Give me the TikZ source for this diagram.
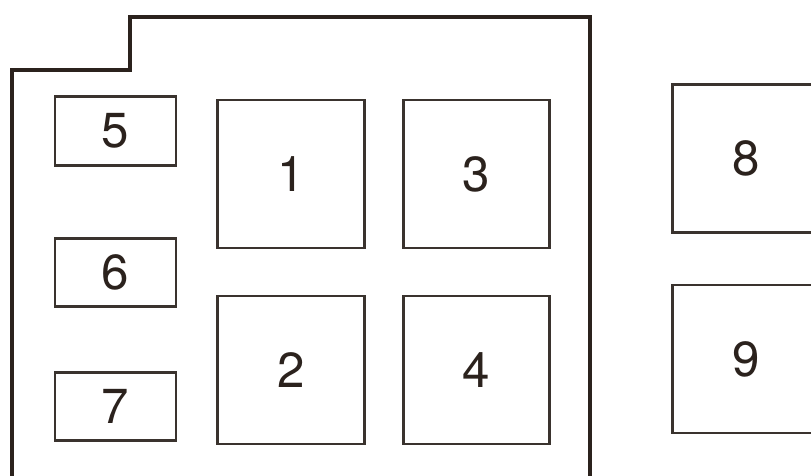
\documentclass[tikz,border=0pt]{standalone}
\usepackage{fontspec}
\setmainfont{TeX Gyre Heros}
\usepackage{xcolor}
\usepackage{tikz}
\definecolor{ink}{HTML}{2B221D}
\definecolor{boxline}{HTML}{3A332E}

\begin{document}
\begin{tikzpicture}[x=0.01cm, y=-0.01cm,
    every node/.style={font=\fontsize{14}{16}\selectfont, text=ink},
    slot/.style={draw=boxline, line width=0.75pt, minimum width=1.21cm, minimum height=0.685cm, inner sep=0pt},
    bigslot/.style={draw=boxline, line width=0.75pt, minimum width=1.465cm, minimum height=1.48cm, inner sep=0pt},
    housing/.style={draw=ink, line width=1.3pt, line join=miter}]
        \clip (0,0) rectangle (811,475);
        \fill[white] (0,0) rectangle (811,475);
        % housing outline
        \draw[housing] (12,490) -- (12,70) -- (130,70) -- (130,17) -- (590,17) -- (590,490);
        % small slots
        \node[slot] (r5) at (115.5,131) {5};
        \node[slot] (r6) at (115.5,272.5) {6};
        \node[slot] (r7) at (115.5,406.5) {7};
        % large slots
        \node[bigslot] (r1) at (291,174) {1};
        \node[bigslot] (r3) at (476.5,174) {3};
        \node[bigslot] (r2) at (291,370) {2};
        \node[bigslot] (r4) at (476.5,370) {4};
        \node[bigslot] (r8) at (746,158.5) {8};
        \node[bigslot] (r9) at (746,359) {9};
      \end{tikzpicture}
\end{document}
